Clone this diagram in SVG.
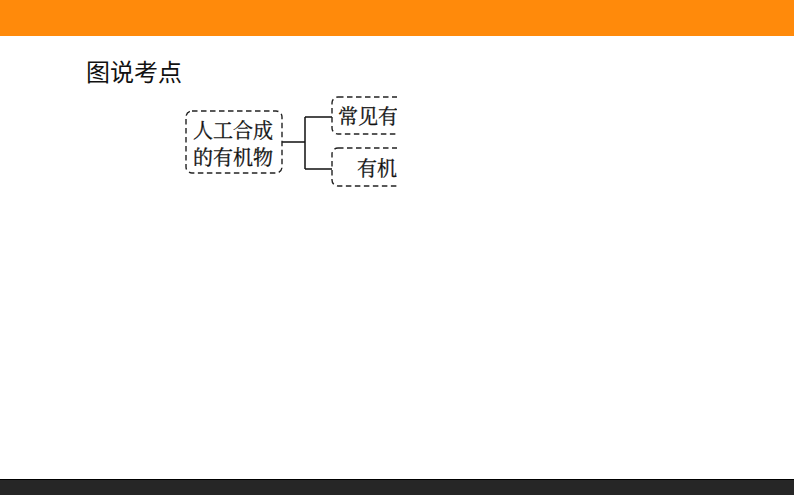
<svg xmlns="http://www.w3.org/2000/svg" width="794" height="495" viewBox="0 0 794 495">
<defs>
<style>
.box{fill:none;stroke:#222;stroke-width:1.4;stroke-dasharray:5.5,3.5}
.t{font-family:"Noto Serif CJK SC","Noto Sans CJK SC",serif;font-size:20px;fill:#111;stroke:#111;stroke-width:0.3}
.title{font-family:"Noto Sans CJK SC",sans-serif;font-size:24px;fill:#111}
.con{fill:none;stroke:#111;stroke-width:1.5}
</style>
<clipPath id="cut"><rect x="0" y="0" width="397" height="495"/></clipPath>
</defs>
<rect x="0" y="0" width="794" height="495" fill="#fff"/>
<rect x="0" y="0" width="794" height="36" fill="#ff8a0b"/>
<rect x="0" y="479" width="794" height="16" fill="#262626"/>
<line x1="0" y1="479.5" x2="794" y2="479.5" stroke="#000" stroke-width="1"/>
<text class="title" x="86" y="81">图说考点</text>
<g id="connectors">
<path class="con" d="M282,142 H305 M305,117 V169 M305,117 H332 M305,169 H332"/>
</g>
<g id="n1">
<rect class="box" x="186" y="111" width="96" height="62" rx="6"/>
<text class="t" x="193" y="138">人工合成</text>
<text class="t" x="193" y="165">的有机物</text>
</g>
<g clip-path="url(#cut)">
<g id="n2">
<rect class="box" x="332" y="97" width="100" height="37" rx="6"/>
<text class="t" x="338" y="124">常见有</text>
</g>
<g id="n3">
<rect class="box" x="332" y="148" width="100" height="38" rx="6"/>
<text class="t" x="357" y="176">有机</text>
</g>
</g>
</svg>
